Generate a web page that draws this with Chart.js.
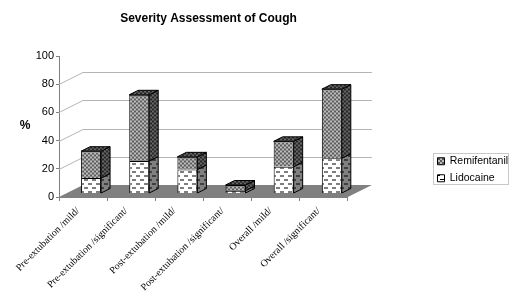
<!DOCTYPE html>
<html>
<head>
<meta charset="utf-8">
<style>
    html, body { margin: 0; padding: 0; background: #fff; }
    #wrap { width: 521px; height: 301px; }
</style>
<script src="https://cdn.jsdelivr.net/npm/chart.js@4"></script>
</head>
<body>
<div id="wrap"><canvas id="chart"></canvas></div>
<script>
const categories = [
    'Pre-extubation /mild/',
    'Pre-extubation /significant/',
    'Post-extubation /mild/',
    'Post-extubation /significant/',
    'Overall /mild/',
    'Overall /significant/'
];
const lidocaine = [11, 23, 17, 2, 19, 25];
const remifentanil = [19, 47, 9, 4, 18, 49];
const yTicks = [0, 20, 40, 60, 80, 100];

const SANS = '"Liberation Sans", Arial, sans-serif';
const SERIF = '"Liberation Serif", "Times New Roman", serif';

// the fake 3D: how far the back wall sits from the axis, and the bars from the axis
const WALL_DX = 24, WALL_DY = -12;
const BAR_DX = 8, BAR_DY = -3.5;
const SIDE_DX = 9, SIDE_DY = -4.5;

function dotPattern(light, dark) {
    const c = document.createElement('canvas');
    c.width = 4; c.height = 4;
    const g = c.getContext('2d');
    g.fillStyle = light;
    g.fillRect(0, 0, 4, 4);
    g.fillStyle = dark;
    g.fillRect(0, 0, 2, 2);
    g.fillRect(2, 2, 2, 2);
    return g.createPattern(c, 'repeat');
}

function dashPattern(back, dash) {
    const c = document.createElement('canvas');
    c.width = 8; c.height = 8;
    const g = c.getContext('2d');
    g.fillStyle = back;
    g.fillRect(0, 0, 8, 8);
    g.fillStyle = dash;
    g.fillRect(0, 3, 4, 1);
    g.fillRect(4, 7, 4, 1);
    return g.createPattern(c, 'repeat');
}

const remiFront = dotPattern('#bcbcbc', '#5c5c5c');
const remiSide = dotPattern('#666666', '#262626');
const lidoFront = dashPattern('#ffffff', '#000000');
const lidoSide = dashPattern('#808080', '#000000');

function polygon(ctx, pts, fill, stroke) {
    ctx.beginPath();
    pts.forEach((p, i) => i ? ctx.lineTo(p[0], p[1]) : ctx.moveTo(p[0], p[1]));
    ctx.closePath();
    ctx.fillStyle = fill;
    ctx.fill();
    if (stroke) {
        ctx.strokeStyle = stroke;
        ctx.lineWidth = 1;
        ctx.stroke();
    }
}

const depthPlugin = {
    id: 'depth',
    afterLayout(chart) {
        // legend and title sit off the chart's own centre lines
        const legend = chart.legend;
        legend.left = 431;
        legend.right = 431 + legend.width;
        legend.top = 149.5;
        legend.bottom = 300;
        const title = chart.titleBlock;
        const shift = 208.5 - (title.left + title.right) / 2;
        title.left += shift; title.right += shift;
    },
    beforeDatasetsDraw(chart) {
        const { ctx, chartArea: area, scales } = chart;
        const y0 = scales.y.getPixelForValue(0);
        ctx.save();
        ctx.strokeStyle = '#b4b4b4';
        ctx.lineWidth = 1;
        [20, 40, 60, 80].forEach(v => {
            const y = Math.round(scales.y.getPixelForValue(v)) + 0.5;
            ctx.beginPath();
            ctx.moveTo(area.left, y);
            ctx.lineTo(area.left + WALL_DX, y + WALL_DY);
            ctx.lineTo(area.right + WALL_DX, y + WALL_DY);
            ctx.stroke();
        });
        polygon(ctx, [
            [area.left, y0],
            [area.left + WALL_DX, y0 + WALL_DY],
            [area.right + WALL_DX, y0 + WALL_DY],
            [area.right, y0]
        ], '#808080');
        ctx.restore();
        ctx.save();
        ctx.translate(BAR_DX, BAR_DY);
    },
    afterDatasetsDraw(chart) {
        const ctx = chart.ctx;
        const sides = [lidoSide, remiSide];
        chart.data.datasets.forEach((ds, d) => {
            chart.getDatasetMeta(d).data.forEach(bar => {
                const l = bar.x - bar.width / 2, r = bar.x + bar.width / 2;
                polygon(ctx, [
                    [r, bar.y], [r + SIDE_DX, bar.y + SIDE_DY],
                    [r + SIDE_DX, bar.base + SIDE_DY], [r, bar.base]
                ], sides[d], '#000');
                if (d === 1) {
                    polygon(ctx, [
                        [l, bar.y], [l + SIDE_DX, bar.y + SIDE_DY],
                        [r + SIDE_DX, bar.y + SIDE_DY], [r, bar.y]
                    ], remiSide, '#000');
                }
            });
        });
        ctx.restore();
    },
    afterDraw(chart) {
        const ctx = chart.ctx;
        ctx.save();
        // y axis label stays horizontal, which the scale title can't do
        ctx.font = 'bold 12px ' + SANS;
        ctx.fillStyle = '#000';
        ctx.textAlign = 'center';
        ctx.textBaseline = 'middle';
        ctx.fillText('%', 25, 126);
        ctx.strokeStyle = '#c8c8c8';
        ctx.lineWidth = 1;
        ctx.strokeRect(433.5, 153.5, 75, 31);
        ctx.restore();
    }
};

new Chart(document.getElementById('chart'), {
    type: 'bar',
    data: {
        labels: categories,
        datasets: [
            { label: 'Lidocaine', data: lidocaine, backgroundColor: lidoFront, borderColor: '#000', borderWidth: 1 },
            { label: 'Remifentanil', data: remifentanil, backgroundColor: remiFront, borderColor: '#000', borderWidth: 1 }
        ]
    },
    options: {
        responsive: true,
        maintainAspectRatio: false,
        animation: false,
        layout: { padding: { left: 0, right: 86, top: 0, bottom: 0 } },
        datasets: { bar: { categoryPercentage: 1, barPercentage: 0.415 } },
        plugins: {
            tooltip: { enabled: false },
            title: {
                display: true,
                text: 'Severity Assessment of Cough',
                color: '#000',
                font: { family: SANS, size: 12, weight: 'bold' },
                padding: { top: 11, bottom: 30.6 }
            },
            legend: {
                position: 'right',
                align: 'start',
                reverse: true,
                labels: {
                    color: '#000',
                    font: { family: SANS, size: 10.5 },
                    boxWidth: 7,
                    boxHeight: 7,
                    padding: 6.5
                }
            }
        },
        scales: {
            x: {
                stacked: true,
                border: { color: '#808080' },
                grid: { drawOnChartArea: false, color: '#808080', tickLength: 4 },
                ticks: {
                    color: '#000',
                    font: { family: SERIF, size: 10 },
                    minRotation: 45,
                    maxRotation: 45,
                    padding: 4,
                    labelOffset: -5,
                    autoSkip: false
                },
                afterFit(scale) { scale.height = 104; }
            },
            y: {
                stacked: true,
                min: 0,
                max: 100,
                border: { color: '#808080' },
                grid: { drawOnChartArea: false, color: '#808080', tickLength: 3 },
                afterBuildTicks(scale) { scale.ticks = yTicks.map(v => ({ value: v })); },
                ticks: {
                    color: '#000',
                    font: { family: SANS, size: 11 },
                    padding: 2
                },
                afterFit(scale) { scale.width = 59; }
            }
        }
    },
    plugins: [depthPlugin]
});
</script>
</body>
</html>
